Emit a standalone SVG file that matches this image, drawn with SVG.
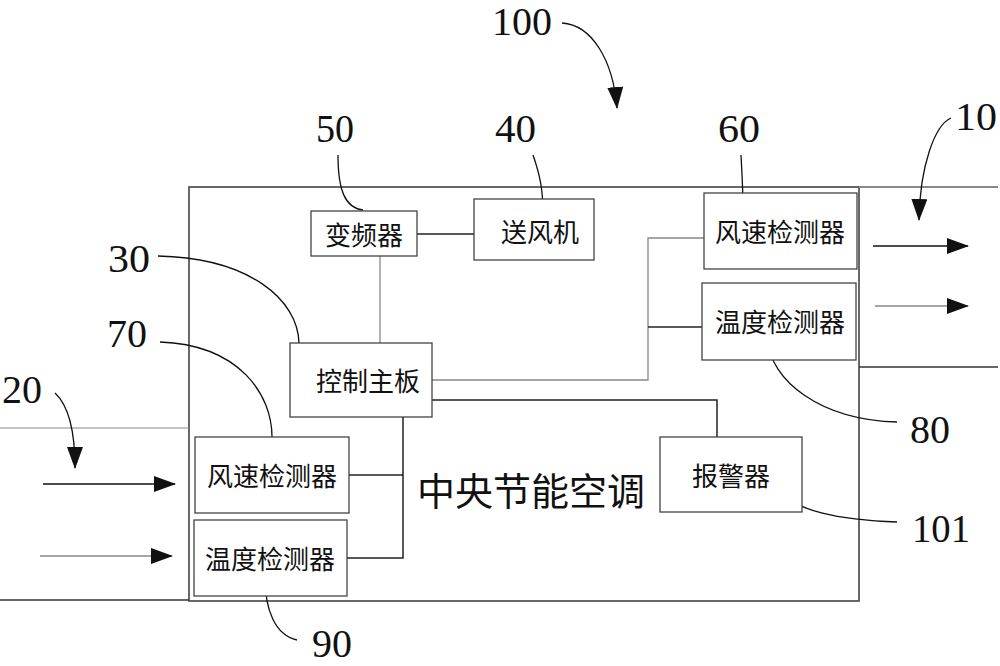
<svg xmlns="http://www.w3.org/2000/svg" width="1000" height="666" viewBox="0 0 1000 666">
<style>
.box{fill:#fff;stroke:#444;stroke-width:1.3}
.lbl{font-family:"Noto Sans CJK SC","Noto Sans",sans-serif;font-size:26px;fill:#111;text-anchor:middle;dominant-baseline:central}
.num{font-family:"Liberation Serif",serif;font-size:40px;fill:#111}
.ld{fill:none;stroke:#111;stroke-width:1.3}
.cn{fill:none;stroke:#222;stroke-width:1.5}
.cg{fill:none;stroke:#888;stroke-width:1.3}
.ar{fill:none;stroke:#111;stroke-width:1.5}
</style>
<defs>
<marker id="ah" markerUnits="userSpaceOnUse" markerWidth="22" markerHeight="16" viewBox="0 0 22 16" refX="21" refY="8" orient="auto">
<path d="M0,0 L22,8 L0,16 z" fill="#111"/>
</marker>
</defs>
<rect width="1000" height="666" fill="#fff"/>

<g id="ducts">
<rect x="189" y="187" width="670" height="414" fill="none" stroke="#444" stroke-width="1.6"/>
<line x1="859" y1="187" x2="998" y2="187" stroke="#888" stroke-width="2"/>
<line x1="859" y1="367" x2="998" y2="367" stroke="#333" stroke-width="1.6"/>
<line x1="0" y1="428" x2="189" y2="428" stroke="#888" stroke-width="1.2"/>
<line x1="0" y1="600" x2="189" y2="600" stroke="#333" stroke-width="1.6"/>
<text x="417" y="488" font-family="Noto Sans CJK SC,sans-serif" font-size="38" fill="#111" dominant-baseline="central">中央节能空调</text>
</g>

<g id="connectors">
<line class="cn" x1="417" y1="234" x2="474" y2="234"/>
<line class="cg" x1="380" y1="256" x2="380" y2="343"/>
<polyline class="cg" points="432,380 648,380 648,238 704,238"/>
<line class="cn" x1="648" y1="327" x2="702" y2="327"/>
<polyline class="cn" points="432,400 717,400 717,437" stroke-width="2"/>
<polyline class="cn" points="403,417 403,558 347,558"/>
<line class="cn" x1="349" y1="475" x2="403" y2="475"/>
<!-- flow arrows -->
<line class="ar" x1="873" y1="246" x2="968" y2="246" marker-end="url(#ah)"/>
<line class="cg" x1="875" y1="306" x2="968" y2="306" marker-end="url(#ah)"/>
<line class="ar" x1="43" y1="484" x2="175" y2="484" marker-end="url(#ah)"/>
<line class="cg" x1="40" y1="556" x2="172" y2="556" marker-end="url(#ah)"/>
<!-- curved reference arrows -->
<path class="ld" d="M562,23 C592,25 613,60 617,108" marker-end="url(#ah)"/>
<path class="ld" d="M951,118 C935,125 920,165 919,220" marker-end="url(#ah)"/>
<path class="ld" d="M55,393 C68,405 75,430 75,468" marker-end="url(#ah)"/>
<!-- leaders -->
<path class="ld" d="M338,155 C338,190 345,208 363,210"/>
<path class="ld" d="M533,155 C540,175 543,190 543,213"/>
<path class="ld" d="M741,155 C742,175 743,190 743,207"/>
<path class="ld" d="M158,256 C250,258 298,300 299,343"/>
<path class="ld" d="M160,342 C240,345 272,395 272,437"/>
<path class="ld" d="M768,340 C770,380 820,420 897,422"/>
<path class="ld" d="M785,491 C790,510 840,520 897,522"/>
<path class="ld" d="M265,577 C265,610 275,635 297,640"/>
</g>

<g id="n50"><rect class="box" x="311" y="211" width="106" height="45"/><text class="lbl" x="364" y="233">变频器</text></g>
<g id="n40"><rect class="box" x="474" y="199" width="120" height="61"/><text class="lbl" x="540" y="230">送风机</text></g>
<g id="n30"><rect class="box" x="290" y="343" width="142" height="74"/><text class="lbl" x="368" y="379">控制主板</text></g>
<g id="n60"><rect class="box" x="704" y="193" width="153" height="76"/><text class="lbl" x="780" y="230">风速检测器</text></g>
<g id="n80"><rect class="box" x="702" y="283" width="154" height="77"/><text class="lbl" x="780" y="320">温度检测器</text></g>
<g id="n101"><rect class="box" x="660" y="437" width="142" height="75"/><text class="lbl" x="731" y="474">报警器</text></g>
<g id="n70"><rect class="box" x="195" y="437" width="154" height="76"/><text class="lbl" x="272" y="474">风速检测器</text></g>
<g id="n90"><rect class="box" x="194" y="520" width="153" height="76"/><text class="lbl" x="270" y="557">温度检测器</text></g>

<g id="numbers">
<text class="num" x="492" y="35" textLength="60" lengthAdjust="spacingAndGlyphs">100</text>
<text class="num" x="316" y="142" textLength="38" lengthAdjust="spacingAndGlyphs">50</text>
<text class="num" x="495" y="142" textLength="41" lengthAdjust="spacingAndGlyphs">40</text>
<text class="num" x="718" y="142" textLength="42" lengthAdjust="spacingAndGlyphs">60</text>
<text class="num" x="955" y="130" textLength="42" lengthAdjust="spacingAndGlyphs">10</text>
<text class="num" x="108" y="272" textLength="42" lengthAdjust="spacingAndGlyphs">30</text>
<text class="num" x="107" y="347" textLength="40" lengthAdjust="spacingAndGlyphs">70</text>
<text class="num" x="2" y="403" textLength="40" lengthAdjust="spacingAndGlyphs">20</text>
<text class="num" x="910" y="443" textLength="40" lengthAdjust="spacingAndGlyphs">80</text>
<text class="num" x="912" y="542" textLength="58" lengthAdjust="spacingAndGlyphs">101</text>
<text class="num" x="312" y="657" font-size="38" textLength="40" lengthAdjust="spacingAndGlyphs">90</text>
</g>
</svg>
